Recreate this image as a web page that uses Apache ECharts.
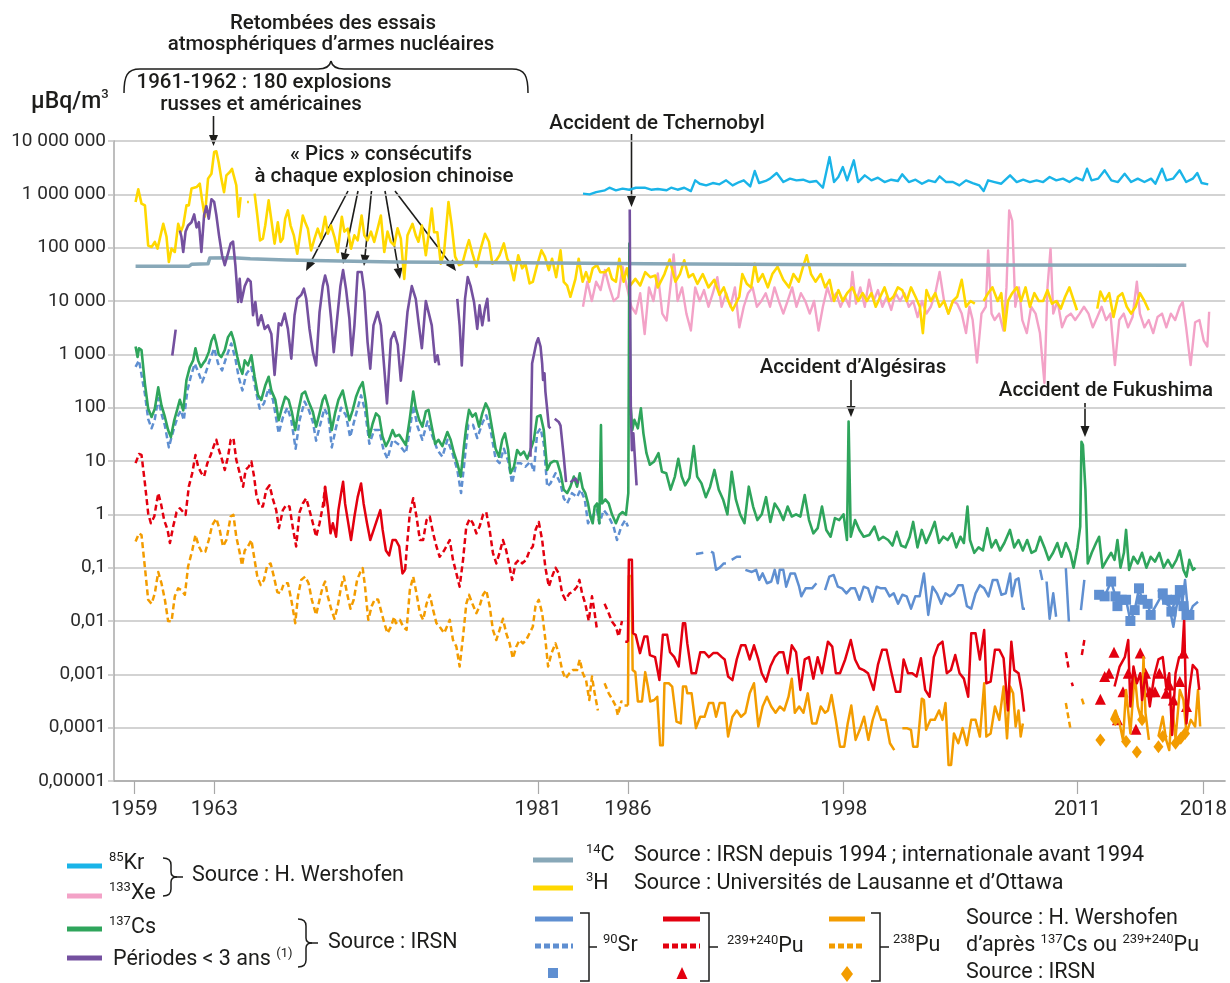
<!DOCTYPE html>
<html><head><meta charset="utf-8">
<script src="https://cdn.jsdelivr.net/npm/echarts@6/dist/echarts.min.js"></script>
<style>html,body{margin:0;padding:0;background:#fff}#c{width:1230px;height:983px}</style>
</head><body><div id="c"></div><script>
// ---------------- DATA (year, µBq/m3) ----------------
const xTickYears = [1959, 1963, 1981, 1986, 1998, 2011, 2018];
const yTickValues = [1e-5, 1e-4, 1e-3, 1e-2, 1e-1, 1, 10, 100, 1e3, 1e4, 1e5, 1e6, 1e7];

const tritium = [[1958.62,7.2e5],[1958.77,1.24e6],[1958.95,6.7e5],[1959.14,6.2e5],[1959.32,1.1e5],[1959.51,1.03e5],[1959.69,1.28e5],[1959.84,9.6e4],[1960.16,2.8e5],[1960.34,1.6e5],[1960.47,5.4e4],[1960.62,9.6e4],[1960.8,8.3e4],[1960.99,2.8e5],[1961.14,2.0e5],[1961.27,2.6e5],[1961.45,6.2e5],[1961.58,6.2e5],[1961.73,1.28e6],[1962.01,1.37e6],[1962.19,1.58e6],[1962.32,7.7e5],[1962.47,3.8e5],[1962.65,1.97e6],[1962.84,2.44e6],[1962.99,6.2e6],[1963.11,6.4e6],[1963.24,4.0e6],[1963.39,1.97e6],[1963.54,1.1e6],[1963.67,2.27e6],[1963.85,2.6e6],[1963.98,3.0e6],[1964.09,2.8e6],[1964.22,1.48e6],[1964.35,3.8e5],[1964.46,8.9e5],[1964.52,null],[1964.82,7.2e5],[1964.92,7.2e5],[1965.0,null],[1965.24,1.03e6],[1965.39,4.0e5],[1965.54,1.37e5],[1965.7,1.48e5],[1965.83,2.6e5],[1966.02,7.7e5],[1966.16,3.5e5],[1966.35,1.19e5],[1966.53,3.0e5],[1966.68,1.28e5],[1966.81,1.48e5],[1966.94,3.5e5],[1967.09,5.0e5],[1967.24,2.6e5],[1967.42,1.7e5],[1967.61,7.7e4],[1967.76,1.7e5],[1967.92,4.0e5],[1968.05,3.0e5],[1968.2,2.27e5],[1968.38,8.9e4],[1968.57,1.48e5],[1968.75,2.27e5],[1968.94,1.48e5],[1969.16,3.8e5],[1969.31,1.83e5],[1969.49,2.6e5],[1969.68,1.58e5],[1969.86,8.3e4],[1970.09,3.8e5],[1970.23,2.0e5],[1970.42,2.27e5],[1970.6,9.6e4],[1970.79,1.7e5],[1970.97,1.37e5],[1971.19,4.0e5],[1971.34,1.7e5],[1971.52,1.37e5],[1971.71,2.0e5],[1971.89,1.28e5],[1972.08,2.27e5],[1972.26,4.0e5],[1972.45,8.3e4],[1972.63,2.0e5],[1972.81,1.28e5],[1973.0,1.1e5],[1973.19,2.3e5],[1973.37,1.48e5],[1973.56,2.6e4],[1973.74,1.7e5],[1974.02,2.8e5],[1974.2,1.7e5],[1974.35,1.29e5],[1974.54,2.6e5],[1974.76,7.2e4],[1974.91,1.7e5],[1975.09,5.4e5],[1975.22,1.95e5],[1975.4,1.95e5],[1975.59,5.0e4],[1975.77,7.8e4],[1976.02,7.2e5],[1976.2,2.6e5],[1976.39,6.8e4],[1976.61,4.7e4],[1976.79,5.0e4],[1977.01,9.5e4],[1977.16,1.38e5],[1977.35,7.8e4],[1977.57,4.4e4],[1977.81,9.5e4],[1978.05,1.82e5],[1978.27,1.29e5],[1978.46,5.0e4],[1978.68,5.8e4],[1978.86,7.2e4],[1979.1,1.2e5],[1979.29,6.2e4],[1979.47,4.7e4],[1979.66,2.45e4],[1979.9,7.2e4],[1980.12,4.1e4],[1980.3,5.0e4],[1980.53,2.14e4],[1980.71,2.29e4],[1980.95,4.7e4],[1981.19,8.9e4],[1981.38,6.8e4],[1981.6,3.8e4],[1981.78,6.2e4],[1982.01,2.8e4],[1982.25,8.9e4],[1982.43,2.29e4],[1982.62,1.95e4],[1982.8,1.2e4],[1983.08,2.6e4],[1983.26,6.2e4],[1983.48,2.29e4],[1983.67,3.47e4],[1983.85,2.29e4],[1984.04,4.1e4],[1984.28,4.7e4],[1984.46,3.47e4],[1984.74,3.47e4],[1984.93,4.1e4],[1985.11,2.6e4],[1985.33,2.29e4],[1985.52,6.2e4],[1985.76,2.29e4],[1985.94,4.1e4],[1986.13,1.95e4],[1986.41,2.6e4],[1986.68,1.95e4],[1986.96,3.47e4],[1987.24,2.8e4],[1987.52,3.0e4],[1987.66,1.8e4],[1988.03,3.2e4],[1988.32,6.0e4],[1988.64,2.3e4],[1988.89,3.2e4],[1989.13,5.8e4],[1989.38,2.8e4],[1989.62,3.2e4],[1989.86,2.1e4],[1990.16,3.2e4],[1990.48,1.8e4],[1990.8,2.5e4],[1991.09,1.3e4],[1991.33,1.8e4],[1991.58,1.0e4],[1991.82,6.7e3],[1992.19,1.2e4],[1992.36,3.2e4],[1992.61,2.1e4],[1992.85,1.8e4],[1993.05,5.0e4],[1993.24,2.3e4],[1993.49,3.2e4],[1993.78,1.8e4],[1994.03,3.2e4],[1994.32,4.4e4],[1994.64,2.5e4],[1994.96,1.8e4],[1995.2,3.2e4],[1995.5,2.3e4],[1995.74,4.4e4],[1995.94,7.2e4],[1996.18,3.2e4],[1996.43,2.3e4],[1996.72,3.2e4],[1996.97,1.8e4],[1997.21,2.5e4],[1997.46,1.0e4],[1997.7,1.6e4],[1997.95,1.0e4],[1998.19,1.4e4],[1998.48,1.8e4],[1998.8,1.0e4],[1999.05,1.4e4],[1999.29,1.0e4],[1999.54,1.4e4],[1999.78,7.8e3],[2000.03,1.2e4],[2000.27,1.8e4],[2000.52,1.0e4],[2000.76,1.2e4],[2001.01,1.8e4],[2001.25,1.6e4],[2001.5,1.0e4],[2001.74,1.8e4],[2001.99,1.2e4],[2002.23,7.8e3],[2002.4,2.5e3],[2002.6,1.6e4],[2002.84,1.0e4],[2003.09,1.4e4],[2003.33,7.8e3],[2003.58,1.0e4],[2003.82,5.8e3],[2004.07,1.0e4],[2004.31,1.2e4],[2004.56,2.5e4],[2004.8,7.8e3],[2005.05,1.0e4],[2005.29,8.9e3],[2005.5,null],[2005.78,1.0e4],[2006.03,1.4e4],[2006.27,1.8e4],[2006.56,1.0e4],[2006.76,1.4e4],[2006.95,2.8e3],[2007.13,1.0e4],[2007.37,1.4e4],[2007.62,1.8e4],[2007.86,1.0e4],[2008.11,1.8e4],[2008.35,7.8e3],[2008.6,1.4e4],[2008.84,1.0e4],[2009.09,1.0e4],[2009.33,1.6e4],[2009.58,8.9e3],[2009.82,1.0e4],[2010.07,7.2e3],[2010.31,1.2e4],[2010.55,1.8e4],[2010.8,1.0e4],[2010.97,6.7e3],[2011.5,null],[2012.1,7.2e3],[2012.27,1.5e4],[2012.51,1.0e4],[2012.76,1.4e4],[2013.0,5.0e3],[2013.25,1.2e4],[2013.49,1.4e4],[2013.74,7.8e3],[2013.98,5.8e3],[2014.23,7.8e3],[2014.47,1.4e4],[2014.72,1.0e4],[2014.96,6.7e3]];

const carbon14 = [[1958.62,4.5e4],[1961.6,4.5e4],[1961.75,4.9e4],[1962.65,5.0e4],[1962.75,6.4e4],[1964.0,6.5e4],[1965,6.2e4],[1967,5.9e4],[1970,5.6e4],[1973,5.4e4],[1980,5.2e4],[1987,5.0e4],[1995,4.85e4],[2005,4.75e4],[2017.05,4.7e4]];

const krypton85 = [[1983.5,1.03e6],[1983.87,1.0e6],[1984.23,1.1e6],[1984.72,1.19e6],[1984.97,1.33e6],[1985.33,1.19e6],[1985.7,1.28e6],[1986.07,1.22e6],[1986.44,1.33e6],[1986.93,1.33e6],[1987.29,1.22e6],[1987.66,1.26e6],[1988.15,1.19e6],[1988.4,1.33e6],[1988.76,1.22e6],[1989.13,1.33e6],[1989.5,1.15e6],[1989.74,1.83e6],[1989.99,1.58e6],[1990.35,1.47e6],[1990.72,1.63e6],[1991.09,1.54e6],[1991.46,1.83e6],[1991.82,1.47e6],[1992.19,1.7e6],[1992.44,1.83e6],[1992.8,1.41e6],[1993.05,2.74e6],[1993.29,1.63e6],[1993.66,1.78e6],[1993.9,1.97e6],[1994.27,2.51e6],[1994.64,1.7e6],[1995.01,1.97e6],[1995.37,1.83e6],[1995.74,1.88e6],[1996.11,1.7e6],[1996.48,1.78e6],[1996.84,1.33e6],[1997.21,5.0e6],[1997.46,1.7e6],[1997.7,2.11e6],[1997.95,3.25e6],[1998.19,1.83e6],[1998.56,4.34e6],[1998.8,1.7e6],[1999.17,2.27e6],[1999.54,1.83e6],[1999.9,2.05e6],[2000.27,1.7e6],[2000.64,1.88e6],[2001.01,1.78e6],[2001.25,2.37e6],[2001.62,1.7e6],[2001.99,1.88e6],[2002.35,1.58e6],[2002.72,1.83e6],[2003.09,1.7e6],[2003.33,2.17e6],[2003.7,1.7e6],[2004.07,1.7e6],[2004.43,1.47e6],[2004.8,1.83e6],[2005.17,1.63e6],[2005.54,1.47e6],[2005.78,1.15e6],[2006.03,1.83e6],[2006.39,1.7e6],[2006.76,1.58e6],[2007.25,2.27e6],[2007.62,1.7e6],[2007.98,1.88e6],[2008.35,1.7e6],[2008.72,1.83e6],[2009.09,1.7e6],[2009.45,2.11e6],[2009.82,1.83e6],[2010.19,1.97e6],[2010.55,1.7e6],[2010.92,2.05e6],[2011.29,1.83e6],[2011.53,3.03e6],[2011.78,1.83e6],[2012.15,1.97e6],[2012.51,2.82e6],[2012.88,1.83e6],[2013.25,1.7e6],[2013.62,2.44e6],[2013.98,1.7e6],[2014.35,1.97e6],[2014.72,1.7e6],[2015.09,1.97e6],[2015.33,1.58e6],[2015.7,3.03e6],[2015.94,1.83e6],[2016.31,1.97e6],[2016.68,2.82e6],[2017.04,1.7e6],[2017.41,1.97e6],[2017.66,2.51e6],[2017.9,1.63e6],[2018.27,1.54e6]];

const xenon133 = [[1983.5,7.8e3],[1983.74,2.3e4],[1983.99,1.0e4],[1984.23,2.3e4],[1984.48,1.6e4],[1984.72,3.8e4],[1984.97,1.8e4],[1985.21,1.0e4],[1985.46,1.2e4],[1985.7,4.4e4],[1985.95,1.8e4],[1986.19,7.8e3],[1986.44,5.8e3],[1986.68,1.4e4],[1986.93,2.4e3],[1987.17,1.8e4],[1987.42,1.0e4],[1987.66,3.3e4],[1987.91,5.8e3],[1988.15,4.3e3],[1988.4,2.4e4],[1988.54,7.5e4],[1988.76,1.0e4],[1989.01,1.8e4],[1989.25,5.8e3],[1989.5,2.8e3],[1989.74,1.8e4],[1989.99,1.0e4],[1990.23,1.6e4],[1990.48,7.8e3],[1990.72,1.4e4],[1990.97,2.8e4],[1991.21,7.8e3],[1991.46,1.4e4],[1991.7,7.8e3],[1991.95,1.8e4],[1992.19,3.2e3],[1992.44,7.8e3],[1992.68,1.4e4],[1992.93,1.8e4],[1993.17,7.8e3],[1993.42,1.0e4],[1993.66,1.4e4],[1993.9,7.8e3],[1994.15,1.8e4],[1994.39,1.0e4],[1994.64,5.8e3],[1994.88,1.0e4],[1995.13,1.8e4],[1995.37,7.8e3],[1995.62,1.4e4],[1995.86,1.0e4],[1996.11,5.8e3],[1996.35,1.0e4],[1996.6,2.8e3],[1996.84,7.8e3],[1997.09,1.8e4],[1997.33,1.0e4],[1997.58,1.4e4],[1997.82,7.8e3],[1998.07,1.2e4],[1998.31,7.8e3],[1998.48,3.5e4],[1998.68,8.9e3],[1998.92,1.8e4],[1999.17,7.8e3],[1999.41,2.5e4],[1999.66,1.0e4],[1999.9,1.6e4],[2000.15,7.8e3],[2000.39,1.2e4],[2000.64,6.8e3],[2000.88,1.4e4],[2001.13,1.0e4],[2001.37,1.4e4],[2001.62,7.8e3],[2001.86,1.0e4],[2002.11,5.0e3],[2002.35,1.0e4],[2002.6,5.8e3],[2002.84,7.8e3],[2003.09,1.4e4],[2003.33,3.5e4],[2003.58,1.0e4],[2003.82,5.8e3],[2004.07,1.0e4],[2004.31,8.9e3],[2004.56,5.8e3],[2004.8,2.5e3],[2004.99,7.8e3],[2005.17,4.4e3],[2005.41,700],[2005.66,5.8e3],[2005.9,7.8e3],[2006.03,8.9e4],[2006.22,5.8e3],[2006.39,4.4e3],[2006.64,5.8e3],[2006.88,2.8e3],[2007.05,1.8e4],[2007.2,5.0e5],[2007.37,3.2e5],[2007.54,7.8e3],[2007.74,1.8e4],[2007.93,4.4e3],[2008.18,2.5e3],[2008.42,7.8e3],[2008.67,5.8e3],[2008.91,2.5e3],[2009.16,290],[2009.33,1.8e4],[2009.5,9.6e4],[2009.65,5.8e3],[2009.89,1.0e4],[2010.14,3.2e3],[2010.38,5.0e3],[2010.63,5.8e3],[2010.87,4.4e3],[2011.12,5.8e3],[2011.36,7.8e3],[2011.61,5.8e3],[2011.85,3.2e3],[2012.1,5.0e3],[2012.34,7.8e3],[2012.59,4.4e3],[2012.83,5.8e3],[2013.08,630],[2013.32,4.4e3],[2013.57,5.8e3],[2013.81,3.2e3],[2014.06,5.0e3],[2014.3,2.3e4],[2014.47,5.8e3],[2014.72,3.2e3],[2014.96,4.4e3],[2015.21,2.5e3],[2015.45,5.0e3],[2015.7,5.8e3],[2015.94,3.2e3],[2016.19,5.8e3],[2016.43,4.4e3],[2016.68,7.8e3],[2016.85,9.6e3],[2017.04,3.2e3],[2017.29,630],[2017.54,4.0e3],[2017.78,4.4e3],[2018.02,1.8e3],[2018.22,1.4e3],[2018.32,6.3e3]];

const cesium137 = [[1958.62,1.4e3],[1958.73,890],[1958.81,1.3e3],[1958.95,1.2e3],[1959.14,280],[1959.32,96],[1959.51,67],[1959.69,96],[1959.88,240],[1960.06,110],[1960.25,67],[1960.43,38],[1960.58,28],[1960.77,58],[1960.95,96],[1961.08,140],[1961.27,89],[1961.45,330],[1961.64,580],[1961.82,770],[1961.95,1.3e3],[1962.1,770],[1962.25,580],[1962.37,670],[1962.5,770],[1962.69,1.1e3],[1962.84,1.8e3],[1962.99,2.3e3],[1963.11,1.6e3],[1963.24,1.0e3],[1963.39,890],[1963.58,1.2e3],[1963.76,2.1e3],[1963.94,2.6e3],[1964.09,1.8e3],[1964.28,890],[1964.41,580],[1964.56,430],[1964.69,770],[1964.87,620],[1965.06,960],[1965.24,380],[1965.43,170],[1965.61,140],[1965.83,260],[1966.02,380],[1966.17,210],[1966.39,140],[1966.58,58],[1966.76,100],[1966.94,160],[1967.13,140],[1967.31,83],[1967.5,38],[1967.68,89],[1967.87,180],[1968.05,200],[1968.24,130],[1968.48,83],[1968.66,44],[1968.85,78],[1969.03,140],[1969.16,170],[1969.35,100],[1969.53,38],[1969.71,78],[1969.9,140],[1970.14,210],[1970.32,110],[1970.51,58],[1970.69,89],[1970.88,160],[1971.06,230],[1971.25,300],[1971.43,120],[1971.62,28],[1971.8,50],[1971.99,78],[1972.17,68],[1972.35,29],[1972.54,19],[1972.72,25],[1972.91,38],[1973.06,29],[1973.28,31],[1973.46,25],[1973.65,20],[1973.87,63],[1974.06,200],[1974.2,100],[1974.39,59],[1974.57,44],[1974.76,85],[1974.91,91],[1975.09,44],[1975.28,21],[1975.46,25],[1975.68,19],[1975.96,35],[1976.14,25],[1976.33,14],[1976.51,9.1],[1976.7,5.1],[1976.88,19],[1977.01,44],[1977.16,91],[1977.35,68],[1977.53,78],[1977.72,44],[1977.9,78],[1978.09,120],[1978.27,91],[1978.46,38],[1978.64,17],[1978.83,12],[1979.01,25],[1979.16,33],[1979.34,16],[1979.47,5.9],[1979.66,7.8],[1979.84,16],[1980.03,13],[1980.21,15],[1980.4,11],[1980.58,16],[1980.77,25],[1980.95,68],[1981.14,72],[1981.32,38],[1981.51,6.8],[1981.69,9.1],[1981.88,10],[1982.06,9.8],[1982.25,5.9],[1982.43,2.9],[1982.62,2.5],[1982.8,3.3],[1982.99,5.1],[1983.17,3.3],[1983.32,5.9],[1983.48,3.1],[1983.63,2.5],[1983.78,1.6],[1983.91,0.91],[1984.04,0.68],[1984.15,1.4],[1984.28,1.6],[1984.41,0.68],[1984.5,47],[1984.56,1.6],[1984.74,1.9],[1984.93,1.6],[1985.11,1.0],[1985.33,0.68],[1985.52,0.98],[1985.7,1.1],[1985.89,0.98],[1986.02,2.5],[1986.08,1.2e5],[1986.13,140],[1986.24,38],[1986.36,59],[1986.55,41],[1986.72,97],[1986.86,33],[1987.03,14],[1987.22,8.5],[1987.46,9.8],[1987.7,14],[1987.89,6.3],[1988.13,5.9],[1988.37,2.9],[1988.61,5.1],[1988.8,11],[1988.99,5.1],[1989.18,3.5],[1989.42,4.8],[1989.66,19],[1989.85,5.1],[1990.09,3.8],[1990.33,2.1],[1990.57,3.3],[1990.81,6.8],[1991.05,2.9],[1991.29,1.9],[1991.53,1.0],[1991.77,6.3],[1992.0,1.9],[1992.24,1.0],[1992.48,0.68],[1992.72,3.3],[1992.96,1.4],[1993.2,0.78],[1993.44,1.0],[1993.68,2.1],[1993.92,0.72],[1994.16,1.6],[1994.4,1.2],[1994.64,0.78],[1994.88,1.4],[1995.11,0.91],[1995.35,1.0],[1995.59,0.91],[1995.83,2.3],[1996.07,0.78],[1996.31,0.44],[1996.55,0.55],[1996.79,1.4],[1997.03,0.51],[1997.27,0.38],[1997.51,0.85],[1997.75,0.78],[1997.99,1.0],[1998.18,0.33],[1998.27,55],[1998.39,0.38],[1998.63,0.78],[1998.87,0.51],[1999.11,0.38],[1999.42,0.41],[1999.71,0.59],[1999.95,0.33],[2000.19,0.38],[2000.47,0.33],[2000.71,0.26],[2000.95,0.47],[2001.19,0.26],[2001.43,0.24],[2001.67,0.38],[2001.86,0.72],[2002.1,0.24],[2002.34,0.51],[2002.58,0.29],[2002.82,0.44],[2003.06,0.72],[2003.3,0.29],[2003.54,0.38],[2003.78,0.33],[2004.02,0.44],[2004.26,0.24],[2004.49,0.38],[2004.68,0.29],[2004.88,1.4],[2005.02,0.33],[2005.26,0.19],[2005.5,0.24],[2005.74,0.21],[2005.98,0.55],[2006.22,0.24],[2006.46,0.33],[2006.69,0.21],[2006.93,0.29],[2007.24,0.51],[2007.48,0.24],[2007.72,0.33],[2007.96,0.21],[2008.2,0.33],[2008.44,0.19],[2008.68,0.21],[2008.92,0.38],[2009.16,0.24],[2009.4,0.14],[2009.64,0.19],[2009.88,0.29],[2010.11,0.16],[2010.35,0.29],[2010.59,0.19],[2010.78,0.10],[2011.0,0.24],[2011.15,0.59],[2011.22,23],[2011.3,20],[2011.44,2.9],[2011.57,0.12],[2011.79,0.19],[2012.03,0.29],[2012.2,0.38],[2012.39,0.10],[2012.63,0.14],[2012.87,0.19],[2013.06,0.14],[2013.22,0.33],[2013.39,0.10],[2013.58,0.19],[2013.7,0.51],[2013.87,0.091],[2014.11,0.16],[2014.35,0.12],[2014.59,0.19],[2014.83,0.10],[2015.07,0.16],[2015.31,0.13],[2015.55,0.19],[2015.79,0.10],[2016.03,0.14],[2016.26,0.10],[2016.5,0.14],[2016.69,0.21],[2016.89,0.091],[2017.06,0.068],[2017.22,0.14],[2017.42,0.091],[2017.56,0.10]];

const shortLived = [[1960.66,950],[1960.85,2900],[1960.95,null],[1961.08,2.1e5],[1961.17,1.6e5],[1961.27,8.3e4],[1961.4,2.0e5],[1961.54,2.6e5],[1961.73,3.0e5],[1961.88,4.2e5],[1962.01,2.4e5],[1962.14,3.0e5],[1962.28,8.3e4],[1962.43,4.1e5],[1962.56,6.0e5],[1962.69,3.5e5],[1962.84,8.1e5],[1962.99,7.2e5],[1963.11,4.1e5],[1963.26,1.7e5],[1963.43,7.2e4],[1963.58,4.7e4],[1963.76,7.8e4],[1963.91,1.2e5],[1964.04,1.3e5],[1964.17,4.7e4],[1964.32,9.6e3],[1964.41,2.6e4],[1964.5,9.6e3],[1964.69,1.9e4],[1964.87,2.6e4],[1965.02,2.3e4],[1965.15,5.4e3],[1965.28,9.6e3],[1965.43,3.5e3],[1965.61,5.4e3],[1965.8,3.0e3],[1965.98,3.5e3],[1966.17,2.4e3],[1966.35,410],[1966.58,3.8e3],[1966.72,3.5e3],[1966.91,5.8e3],[1967.09,3.0e3],[1967.28,830],[1967.46,5.4e3],[1967.61,1.1e4],[1967.83,1.3e4],[1967.98,1.7e4],[1968.11,1.1e4],[1968.29,3.0e3],[1968.48,1.1e3],[1968.66,620],[1968.85,6.2e3],[1969.03,1.9e4],[1969.16,3.0e4],[1969.31,1.9e4],[1969.49,4.7e3],[1969.64,1.1e3],[1969.83,4.7e3],[1970.01,1.9e4],[1970.16,3.8e4],[1970.32,1.7e4],[1970.51,4.7e3],[1970.64,960],[1970.79,3.5e3],[1970.97,3.5e4],[1971.19,3.5e4],[1971.34,1.5e4],[1971.52,1.7e3],[1971.67,540],[1971.85,3.5e3],[1972.08,6.2e3],[1972.26,3.5e3],[1972.45,540],[1972.6,120],[1972.82,1.9e3],[1973.0,2.6e3],[1973.2,1.5e3],[1973.37,320],[1973.56,1.3e3],[1973.74,6.2e3],[1973.98,1.9e4],[1974.2,1.1e4],[1974.35,4.1e3],[1974.54,1.3e3],[1974.76,1.0e4],[1974.91,6.2e3],[1975.09,3.5e3],[1975.28,720],[1975.41,960],[1975.5,620],[1976.0,null],[1976.51,1.1e4],[1976.64,3.5e3],[1976.76,620],[1976.94,1.1e4],[1977.09,2.8e4],[1977.25,1.9e4],[1977.44,9.6e3],[1977.62,3.0e3],[1977.75,8.3e3],[1977.9,3.5e3],[1978.05,7.2e3],[1978.18,1.1e4],[1978.27,4.1e3],[1979.0,null],[1980.58,12],[1980.67,670],[1980.77,670],[1980.9,1.6e3],[1981.01,2.0e3],[1981.14,1.4e3],[1981.23,670],[1981.28,330],[1981.36,440],[1981.41,200],[1981.5,100],[1981.6,44],[1981.69,41],[1981.8,null],[1981.93,62],[1982.15,54],[1982.25,46],[1982.43,12],[1982.56,4],[1982.65,null],[1982.8,4],[1983.08,4.7],[1983.23,3.8],[1984.0,null],[1986.1,5.2e5],[1986.13,3e3],[1986.16,100],[1986.22,16],[1986.3,33],[1986.48,3.5]];

const sr90Est = [[1958.62,580],[1958.81,770],[1959.14,180],[1959.32,61],[1959.51,41],[1959.69,61],[1959.88,150],[1960.06,77],[1960.25,46],[1960.47,18],[1960.62,28],[1960.8,46],[1960.99,72],[1961.14,89],[1961.3,58],[1961.5,210],[1961.69,380],[1961.91,670],[1962.1,470],[1962.32,300],[1962.5,430],[1962.74,770],[1962.99,1.3e3],[1963.21,670],[1963.43,500],[1963.67,890],[1963.94,1.6e3],[1964.17,830],[1964.35,380],[1964.56,210],[1964.78,430],[1965.06,580],[1965.28,230],[1965.52,96],[1965.76,120],[1966.02,230],[1966.26,140],[1966.58,33],[1966.82,67],[1967.06,100],[1967.28,58],[1967.52,17],[1967.74,58],[1968.02,130],[1968.26,89],[1968.48,54],[1968.66,24],[1968.85,43],[1969.12,96],[1969.35,67],[1969.53,18],[1969.77,43],[1970.05,100],[1970.32,72],[1970.55,28],[1970.79,58],[1971.16,170],[1971.38,89],[1971.62,21],[1971.89,38],[1972.17,38],[1972.41,16],[1972.63,11],[1972.91,25],[1973.28,20],[1973.65,14],[1973.87,38],[1974.06,110],[1974.3,44],[1974.57,25],[1974.85,55],[1975.13,29],[1975.41,16],[1975.68,12],[1975.96,25],[1976.24,14],[1976.51,6.8],[1976.72,2.5],[1976.9,9.1],[1977.12,48],[1977.38,48],[1977.62,27],[1977.9,51],[1978.12,72],[1978.36,38],[1978.64,11],[1978.86,9.1],[1979.1,17],[1979.34,10],[1979.56,3.8],[1979.79,9.1],[1980.03,9.1],[1980.3,7.8],[1980.58,9.8],[1980.77,6.3],[1980.95,33],[1981.14,41],[1981.32,21],[1981.51,3.3],[1981.69,3.8],[1981.97,5.9],[1982.25,3.8],[1982.43,2.0],[1982.62,1.6],[1982.89,2.5],[1983.17,2.1],[1983.36,2.9],[1983.6,1.9],[1983.78,0.68],[1984.0,0.91],[1984.28,1.2],[1984.41,0.68],[1984.65,1.2],[1984.93,0.91],[1985.2,0.59],[1985.39,0.33],[1985.63,0.59],[1985.85,0.78],[1986.0,0.59]];

const sr90 = [[1989.78,0.18],[1990.19,0.19],[1990.4,null],[1990.62,0.2],[1990.74,0.19],[1990.9,0.091],[1991.1,0.10],[1991.33,0.12],[1991.45,0.12],[1991.6,null],[1991.77,0.14],[1991.86,0.13],[1992.05,0.16],[1992.29,0.16],[1992.4,null],[1992.53,0.091],[1992.89,0.083],[1993.13,0.091],[1993.3,0.059],[1993.49,0.078],[1993.73,0.051],[1993.97,0.055],[1994.16,0.091],[1994.33,0.051],[1994.44,0.091],[1994.64,0.091],[1994.8,0.044],[1995.04,0.078],[1995.28,0.078],[1995.52,0.044],[1995.64,0.029],[1995.88,0.041],[1996.24,0.041],[1996.48,0.051],[1996.7,null],[1996.96,0.038],[1997.2,0.068],[1997.44,0.073],[1997.67,0.044],[1997.91,0.041],[1998.15,0.033],[1998.39,0.041],[1998.63,0.041],[1998.87,0.025],[1999.11,0.044],[1999.35,0.041],[1999.59,0.023],[1999.83,0.044],[2000.07,0.041],[2000.31,0.041],[2000.55,0.029],[2000.78,0.033],[2001.02,0.021],[2001.26,0.031],[2001.5,0.029],[2001.74,0.017],[2001.98,0.029],[2002.22,0.029],[2002.46,0.078],[2002.7,0.013],[2002.94,0.044],[2003.18,0.033],[2003.42,0.021],[2003.66,0.033],[2003.9,0.029],[2004.13,0.033],[2004.37,0.047],[2004.61,0.047],[2004.85,0.019],[2005.09,0.017],[2005.33,0.033],[2005.57,0.047],[2005.81,0.041],[2006.05,0.029],[2006.29,0.059],[2006.53,0.059],[2006.77,0.031],[2007.01,0.033],[2007.25,0.078],[2007.36,0.029],[2007.56,0.059],[2007.72,0.063],[2007.96,0.017],[2008.08,0.017],[2008.5,null],[2008.92,0.091],[2009.04,0.059],[2009.15,null],[2009.28,0.055],[2009.45,0.011],[2009.65,0.033],[2009.81,0.012],[2010.0,null],[2010.35,0.098],[2010.52,0.0098],[2010.8,null],[2011.19,0.016],[2011.38,0.059],[2013.0,null],[2015.5,0.038],[2015.79,0.023],[2016.1,0.019],[2016.33,0.0078],[2016.57,0.025],[2016.81,0.019],[2016.98,0.059],[2017.17,0.012],[2017.41,0.019],[2017.7,0.023]];

const sr90Points = [[2012.2,0.031],[2012.51,0.029],[2012.87,0.055],[2013.11,0.029],[2013.22,0.019],[2013.46,0.025],[2013.7,0.025],[2013.94,0.010],[2014.18,0.016],[2014.42,0.041],[2014.59,0.025],[2014.9,0.021],[2015.07,0.013],[2015.74,0.033],[2015.98,0.025],[2016.22,0.015],[2016.45,0.025],[2016.69,0.038],[2016.89,0.019],[2017.06,0.013],[2017.22,0.013]];

const pu239Est = [[1958.62,9.1],[1958.81,13.5],[1958.95,13],[1959.14,3.8],[1959.32,1.05],[1959.47,0.68],[1959.66,0.91],[1959.88,2.5],[1960.03,1.6],[1960.21,0.78],[1960.4,0.51],[1960.53,0.29],[1960.71,0.59],[1960.9,1.1],[1961.08,1.3],[1961.27,1.1],[1961.4,0.98],[1961.58,3.3],[1961.77,5.9],[1961.95,13],[1962.1,7.8],[1962.28,5.9],[1962.43,5.1],[1962.61,9.1],[1962.8,13],[1962.99,20],[1963.11,25],[1963.26,16],[1963.43,10.5],[1963.58,6.8],[1963.76,12],[1963.91,25],[1964.06,27],[1964.22,10.5],[1964.41,5.9],[1964.6,3.3],[1964.74,6.8],[1964.91,7.8],[1965.06,9.8],[1965.21,5.1],[1965.34,2.3],[1965.52,1.4],[1965.7,1.4],[1965.89,2.9],[1966.07,3.5],[1966.26,1.9],[1966.44,1.2],[1966.59,0.55],[1966.81,1.2],[1967.0,1.5],[1967.18,1.4],[1967.37,0.55],[1967.55,0.25],[1967.74,1.1],[1967.92,1.6],[1968.11,2.0],[1968.29,1.2],[1968.48,0.68],[1968.66,0.38],[1968.85,0.68],[1969.03,1.4],[1969.16,3.3],[1969.3,null],[1973.61,0.091],[1973.69,0.21],[1973.87,1.05],[1974.06,2.0],[1974.24,0.91],[1974.43,0.33],[1974.61,0.33],[1974.8,0.78],[1974.98,0.91],[1975.17,0.44],[1975.35,0.25],[1975.53,0.16],[1975.78,0.21],[1976.09,0.33],[1976.27,0.14],[1976.46,0.078],[1976.64,0.044],[1976.83,0.14],[1977.01,0.59],[1977.2,0.83],[1977.38,0.68],[1977.57,0.44],[1977.75,0.59],[1977.94,0.98],[1978.12,1.1],[1978.31,0.51],[1978.49,0.19],[1978.68,0.12],[1978.86,0.19],[1979.05,0.33],[1979.23,0.21],[1979.38,0.12],[1979.56,0.059],[1979.75,0.12],[1979.93,0.14],[1980.12,0.12],[1980.34,0.14],[1980.53,0.21],[1980.71,0.25],[1980.86,0.51],[1981.04,0.72],[1981.23,0.33],[1981.41,0.10],[1981.6,0.044],[1981.78,0.068],[1981.97,0.10],[1982.15,0.078],[1982.34,0.033],[1982.52,0.025],[1982.75,0.033],[1982.93,0.035],[1983.17,0.044],[1983.3,0.059],[1983.45,0.033],[1983.63,0.021],[1983.82,0.010],[1984.0,0.029],[1984.15,0.014],[1984.28,0.0068],[1984.5,null],[1984.7,0.021],[1984.93,0.014],[1985.11,0.0098],[1985.33,0.0078],[1985.48,0.0051],[1985.67,0.010],[1985.75,null],[1985.85,0.0041],[1986.0,0.0041],[1990.0,null],[2010.35,0.0026],[2010.52,0.0012],[2010.6,null],[2010.68,0.0007],[2010.74,0.0006],[2010.9,null],[2011.24,0.0023],[2011.38,0.0044]];

const pu239 = [[1969.1,1.4],[1969.16,3.3],[1969.31,1.4],[1969.46,0.44],[1969.59,0.68],[1969.77,0.38],[1969.9,1.2],[1970.05,2.5],[1970.16,4.1],[1970.27,1.6],[1970.42,0.78],[1970.6,0.33],[1970.79,0.91],[1970.97,2.1],[1971.16,3.8],[1971.3,1.6],[1971.49,0.68],[1971.67,0.33],[1971.86,0.51],[1972.04,0.78],[1972.23,1.2],[1972.36,0.51],[1972.54,0.21],[1972.72,0.17],[1972.91,0.33],[1973.09,0.33],[1973.28,0.25],[1973.46,0.078],[1973.61,0.091],[1974.0,null],[1986.0,0.0041],[1986.05,0.14],[1986.22,0.14],[1986.28,0.0059],[1986.43,0.0055],[1986.67,0.0025],[1986.91,0.0051],[1987.08,0.0051],[1987.22,0.0023],[1987.51,0.0021],[1987.75,0.00078],[1987.94,0.0055],[1988.18,0.0055],[1988.34,0.0026],[1988.58,0.0021],[1988.82,0.0014],[1989.06,0.0091],[1989.18,0.0091],[1989.3,0.0038],[1989.54,0.00105],[1989.78,0.00105],[1990.02,0.0026],[1990.26,0.0026],[1990.5,0.0021],[1990.74,0.0025],[1990.98,0.0025],[1991.22,0.0021],[1991.38,0.0019],[1991.57,0.00091],[1991.81,0.00078],[1992.05,0.0019],[1992.29,0.0035],[1992.53,0.0035],[1992.77,0.0019],[1993.01,0.0035],[1993.25,0.0019],[1993.44,0.00105],[1993.68,0.00073],[1993.92,0.0014],[1994.16,0.0021],[1994.4,0.0026],[1994.64,0.0026],[1994.88,0.00105],[1995.11,0.0035],[1995.35,0.0026],[1995.59,0.00051],[1995.83,0.0019],[1996.07,0.0021],[1996.31,0.00083],[1996.55,0.0021],[1996.79,0.00105],[1997.12,0.0041],[1997.36,0.0033],[1997.56,0.00105],[1997.79,0.00105],[1998.08,0.0019],[1998.39,0.0044],[1998.63,0.0019],[1998.87,0.0013],[1999.11,0.0012],[1999.35,0.00105],[1999.66,0.00051],[1999.9,0.0015],[2000.14,0.0029],[2000.38,0.0029],[2000.62,0.0012],[2000.9,0.00047],[2001.14,0.00047],[2001.33,0.0019],[2001.57,0.00105],[2001.81,0.00105],[2002.05,0.00091],[2002.29,0.002],[2002.53,0.00051],[2002.77,0.00038],[2003.01,0.0021],[2003.25,0.0035],[2003.49,0.0041],[2003.73,0.00105],[2003.96,0.0012],[2004.2,0.0023],[2004.44,0.00105],[2004.68,0.00083],[2004.92,0.00038],[2005.09,0.0059],[2005.33,0.0059],[2005.57,0.0019],[2005.81,0.0068],[2005.93,0.00068],[2006.17,0.00073],[2006.41,0.0029],[2006.65,0.0029],[2006.89,0.002],[2007.13,0.00021],[2007.32,0.0041],[2007.48,0.0012],[2007.72,0.00105],[2007.89,0.00051],[2008.03,0.0002],[2009.0,null],[2013.06,0.00059],[2013.34,0.0014],[2013.63,0.0021],[2013.82,0.0044],[2013.94,0.00025],[2014.11,0.0014],[2014.3,0.00068],[2014.49,0.00105],[2014.59,0.00033],[2014.78,0.00105],[2015.02,0.00025],[2015.26,0.00091],[2015.5,0.0019],[2015.74,0.0021],[2015.93,0.00059],[2016.1,0.00105],[2016.26,0.000073],[2016.45,0.00105],[2016.65,0.0021],[2016.81,0.0021],[2016.93,0.0105],[2017.06,0.00012],[2017.22,0.00051],[2017.41,0.0015],[2017.65,0.0012],[2017.77,0.00051]];

const pu239Points = [[2012.27,0.00034],[2012.51,0.00091],[2012.75,0.00105],[2013.03,0.0026],[2013.22,0.00014],[2013.53,0.00047],[2013.82,0.00105],[2014.25,0.000093],[2014.49,0.0025],[2014.78,0.00105],[2015.02,0.00047],[2015.31,0.00047],[2015.55,0.00105],[2015.93,0.00044],[2016.1,0.00063],[2016.33,0.00033],[2016.69,0.00073],[2016.89,0.0025],[2017.06,0.00025]];

const pu238Est = [[1958.62,0.31],[1958.81,0.44],[1958.95,0.41],[1959.14,0.10],[1959.32,0.025],[1959.51,0.021],[1959.69,0.033],[1959.88,0.083],[1960.06,0.051],[1960.25,0.025],[1960.43,0.010],[1960.62,0.0098],[1960.8,0.029],[1960.99,0.041],[1961.17,0.038],[1961.36,0.031],[1961.54,0.105],[1961.77,0.21],[1961.95,0.41],[1962.14,0.25],[1962.32,0.19],[1962.5,0.2],[1962.69,0.33],[1962.88,0.63],[1963.11,0.83],[1963.3,0.51],[1963.48,0.25],[1963.67,0.33],[1963.91,0.91],[1964.06,0.98],[1964.22,0.38],[1964.41,0.19],[1964.54,0.11],[1964.69,0.21],[1964.87,0.25],[1965.06,0.33],[1965.21,0.16],[1965.39,0.068],[1965.58,0.047],[1965.76,0.059],[1965.94,0.11],[1966.13,0.12],[1966.31,0.068],[1966.5,0.035],[1966.68,0.033],[1966.87,0.051],[1967.09,0.051],[1967.28,0.025],[1967.5,0.0091],[1967.65,0.029],[1967.83,0.059],[1968.05,0.068],[1968.24,0.051],[1968.42,0.025],[1968.66,0.013],[1968.85,0.025],[1969.03,0.044],[1969.16,0.055],[1969.31,0.029],[1969.49,0.017],[1969.68,0.011],[1969.86,0.019],[1970.05,0.044],[1970.2,0.068],[1970.38,0.033],[1970.57,0.017],[1970.75,0.025],[1970.94,0.059],[1971.12,0.083],[1971.25,0.098],[1971.38,0.044],[1971.56,0.0105],[1971.75,0.019],[1971.93,0.026],[1972.11,0.025],[1972.26,0.016],[1972.45,0.0091],[1972.63,0.0059],[1972.82,0.0078],[1973.0,0.012],[1973.09,0.0091],[1973.32,0.0105],[1973.5,0.0078],[1973.69,0.0068],[1973.87,0.038],[1974.06,0.068],[1974.24,0.033],[1974.43,0.014],[1974.61,0.0105],[1974.8,0.021],[1974.98,0.031],[1975.17,0.016],[1975.35,0.0091],[1975.53,0.0078],[1975.78,0.0059],[1976.09,0.0105],[1976.27,0.0044],[1976.46,0.0033],[1976.64,0.0014],[1976.83,0.0051],[1977.01,0.021],[1977.16,0.031],[1977.35,0.021],[1977.57,0.014],[1977.75,0.019],[1977.94,0.031],[1978.12,0.038],[1978.31,0.019],[1978.49,0.0068],[1978.68,0.0044],[1978.86,0.0068],[1979.05,0.011],[1979.23,0.0059],[1979.42,0.0038],[1979.6,0.002],[1979.79,0.0033],[1979.97,0.0044],[1980.16,0.0038],[1980.34,0.0044],[1980.53,0.0059],[1980.71,0.0078],[1980.86,0.019],[1981.04,0.025],[1981.23,0.014],[1981.41,0.0044],[1981.56,0.0014],[1981.75,0.0025],[1981.97,0.0038],[1982.15,0.0025],[1982.34,0.0012],[1982.52,0.00083],[1982.75,0.00105],[1982.93,0.0012],[1983.17,0.0012],[1983.32,0.0019],[1983.49,0.00105],[1983.67,0.00078],[1983.85,0.00033],[1984.0,0.00091],[1984.15,0.00044],[1984.33,0.00021],[1984.5,null],[1984.7,0.00068],[1984.93,0.00044],[1985.11,0.00035],[1985.33,0.00025],[1985.44,0.00017],[1985.63,0.00031],[1985.7,0.00031],[1985.75,null],[1985.81,0.00026],[1986.0,0.00026],[1990.0,null],[2010.35,0.00029],[2010.6,0.000098],[2010.9,null],[2011.24,0.00035],[2011.38,0.00025]];

const pu238 = [[1986.0,0.00026],[1986.05,0.07],[1986.2,0.07],[1986.26,0.0012],[1986.41,0.0011],[1986.55,0.00031],[1986.78,0.00031],[1986.96,0.0011],[1987.11,0.00059],[1987.24,0.00031],[1987.46,0.00033],[1987.63,0.00038],[1987.79,0.000047],[1987.94,0.000047],[1988.03,0.00068],[1988.27,0.00068],[1988.46,0.00059],[1988.7,0.00013],[1988.94,0.00012],[1989.06,0.00059],[1989.23,0.00059],[1989.3,0.00044],[1989.54,0.00044],[1989.78,0.000098],[1990.02,0.00016],[1990.26,0.00016],[1990.5,0.00029],[1990.74,0.00029],[1990.9,0.00016],[1991.1,0.00029],[1991.38,0.00029],[1991.57,0.000068],[1991.81,0.00016],[1992.05,0.00021],[1992.29,0.00016],[1992.53,0.00019],[1992.77,0.00044],[1993.01,0.00068],[1993.25,0.000105],[1993.49,0.00025],[1993.73,0.00038],[1993.97,0.00025],[1994.21,0.00019],[1994.45,0.00025],[1994.69,0.00021],[1994.93,0.00038],[1995.11,0.00083],[1995.28,0.00019],[1995.52,0.00025],[1995.76,0.00019],[1996.0,0.00044],[1996.24,0.00012],[1996.48,0.00012],[1996.72,0.00025],[1996.96,0.00019],[1997.12,0.00021],[1997.32,0.00041],[1997.56,0.00014],[1997.79,0.000044],[1998.03,0.000044],[1998.22,0.00012],[1998.42,0.00026],[1998.66,0.000059],[1998.89,0.000091],[1999.13,0.00016],[1999.37,0.000059],[1999.61,0.00014],[1999.85,0.00025],[2000.09,0.00014],[2000.33,0.00014],[2000.57,0.000051],[2000.81,0.000038],[2001.0,null],[2001.26,0.000098],[2001.5,0.000098],[2001.74,0.000091],[2001.86,0.000044],[2002.1,0.000044],[2002.34,0.00035],[2002.46,0.00033],[2002.58,0.000091],[2002.82,0.00014],[2003.06,0.00014],[2003.3,0.00021],[2003.49,0.00014],[2003.66,0.00029],[2003.83,0.00002],[2003.97,0.00002],[2004.13,0.000078],[2004.37,0.000051],[2004.61,0.000098],[2004.85,0.000047],[2005.09,0.00014],[2005.33,0.00014],[2005.57,0.000068],[2005.81,0.00068],[2005.93,0.000068],[2006.17,0.000078],[2006.41,0.00025],[2006.65,0.00014],[2006.89,0.00059],[2007.08,0.000063],[2007.25,0.00059],[2007.42,0.00044],[2007.56,0.000105],[2007.72,0.00021],[2007.84,0.000068],[2007.96,0.00012],[2009.0,null],[2012.87,0.00014],[2013.11,0.00021],[2013.34,0.00012],[2013.53,0.000059],[2013.7,0.00051],[2013.94,0.000078],[2014.18,0.00105],[2014.35,0.00025],[2014.55,0.00014],[2014.67,0.0021],[2014.78,0.00019],[2014.97,0.000059],[2015.2,null],[2015.5,0.000068],[2015.74,0.00016],[2015.93,0.000059],[2016.1,0.000038],[2016.26,0.00025],[2016.45,0.000063],[2016.69,0.00051],[2016.89,0.00033],[2017.06,0.000078],[2017.3,0.00014],[2017.54,0.000105],[2017.7,0.00051],[2017.82,0.000105]];

const pu238Points = [[2012.27,0.000059],[2013.1,0.00014],[2013.7,0.000055],[2014.3,0.000035],[2014.59,0.00014],[2015.5,0.000044],[2015.74,0.000068],[2016.45,0.000051],[2016.74,0.000063],[2016.98,0.000078]];

// ---------------- STYLE ----------------
const F = 'Roboto, "DejaVu Sans", sans-serif';
const INK = '#1d1d1b';
const C = {kr:'#1ab4e8', xe:'#f3a2c7', cs:'#2fa55c', short:'#74509f', c14:'#88a8b8', h3:'#ffd800', sr:'#5f8fd1', pu:'#e3000f', pu238:'#f39c00'};

const chart = echarts.init(document.getElementById('c'), null, {renderer:'canvas'});

function line(name, data, color, width, dashed) {
  return {name, type:'line', data, showSymbol:false, symbol:'none', connectNulls:false,
    lineStyle:{color, width, type: dashed ? [6,3.5] : 'solid', cap:'butt', join:'round'},
    itemStyle:{color}, emphasis:{disabled:true}, silent:true};
}
function points(name, data, color, symbol, size) {
  return {name, type:'scatter', data, symbol, symbolSize:size, itemStyle:{color, opacity:1}, silent:true};
}
function fmtY(v) {
  const e = Math.round(Math.log10(v));
  if (e >= 0) return String(Math.pow(10, e)).replace(/\B(?=(\d{3})+(?!\d))/g, ' ');
  return '0,' + '0'.repeat(-e - 1) + '1';
}
const xTickPos = xTickYears.map(y => y === 1959 ? 1958.55 : y);

// ---------- annotation helpers ----------
function txt(x, y, text, size, weight, align, rich) {
  const st = {text, fill:INK, fontSize:size, fontFamily:F, fontWeight:weight,
    textAlign:align, align:align, textVerticalAlign:'middle', verticalAlign:'middle'};
  if (rich) st.rich = rich;
  return {type:'text', x, y, silent:true, style:st};
}
function ln(x1, y1, x2, y2, w) { return {type:'line', silent:true, shape:{x1, y1, x2, y2}, style:{stroke:INK, lineWidth:w || 1.5}}; }
function arrow(x1, y1, x2, y2) {
  const dx = x2 - x1, dy = y2 - y1, L = Math.hypot(dx, dy), ux = dx / L, uy = dy / L;
  const hl = 11, hw = 4.5, bx = x2 - ux * hl, by = y2 - uy * hl;
  return [
    ln(x1, y1, bx, by, 1.6),
    {type:'polygon', silent:true, shape:{points:[[x2, y2], [bx - uy * hw, by + ux * hw], [bx + uy * hw, by - ux * hw]]}, style:{fill:INK}}
  ];
}
function qb(x1, y1, cx, cy, x2, y2) { return {type:'bezierCurve', silent:true, shape:{x1, y1, x2, y2, cpx1:cx, cpy1:cy}, style:{stroke:INK, lineWidth:1.5, fill:null}}; }
function cb(x1, y1, c1x, c1y, c2x, c2y, x2, y2) { return {type:'bezierCurve', silent:true, shape:{x1, y1, x2, y2, cpx1:c1x, cpy1:c1y, cpx2:c2x, cpy2:c2y}, style:{stroke:INK, lineWidth:1.5, fill:null}}; }
function pl(pts) { return {type:'polyline', silent:true, shape:{points:pts}, style:{stroke:INK, lineWidth:1.5, fill:null}}; }
function curly(x, yTop, yBot, depth) {
  const ym = (yTop + yBot) / 2, xv = x + depth;
  return [
    qb(x, yTop, xv, yTop, xv, yTop + 7), ln(xv, yTop + 7, xv, ym - 5),
    qb(xv, ym - 5, xv, ym, xv + 6, ym), ln(xv + 6, ym, xv + 12, ym),
    qb(xv + 6, ym, xv, ym, xv, ym + 5), ln(xv, ym + 5, xv, yBot - 7),
    qb(xv, yBot - 7, xv, yBot, x, yBot)
  ];
}
function square(x, yTop, yBot, depth, tail) {
  const ym = (yTop + yBot) / 2;
  return [pl([[x, yTop], [x + depth, yTop], [x + depth, yBot], [x, yBot]]), ln(x + depth, ym, x + depth + tail, ym)];
}
function sw(x, y, w, color) { return {type:'rect', silent:true, shape:{x, y:y - 2.5, width:w, height:5}, style:{fill:color}}; }
function dsw(x, y, w, color) { return {type:'line', silent:true, shape:{x1:x, y1:y, x2:x + w, y2:y}, style:{stroke:color, lineWidth:5, lineDash:[6,3]}}; }

const A = 20.5, AW = 500;
const supR = (main) => ({
  s:{fontSize:13, fontFamily:F, fill:INK, verticalAlign:'top', lineHeight:13},
  n:{fontSize:main, fontFamily:F, fill:INK, lineHeight:main + 4}
});
const LS = 21.5;

const graphics = [
  txt(333, 24, 'Retombées des essais', A, AW, 'center'),
  txt(331, 45, 'atmosphériques d’armes nucléaires', A, AW, 'center'),
  cb(124, 93, 124, 76, 127, 69, 140, 69), ln(140, 69, 318, 69),
  cb(318, 69, 326, 69, 330, 66, 331, 61), cb(331, 61, 332, 66, 336, 69, 344, 69),
  ln(344, 69, 512, 69), cb(512, 69, 525, 69, 528, 76, 528, 93),
  txt(264, 83, '1961-1962 : 180 explosions', A, AW, 'center'),
  txt(261, 105, 'russes et américaines', A, AW, 'center'),
  ...arrow(213.5, 116, 213.5, 146),
  txt(31, 102, '{n|µBq/m}{s|3}', 23, AW, 'left', {
    n:{fontSize:23, fontFamily:F, fontWeight:AW, fill:INK, lineHeight:27},
    s:{fontSize:13, fontFamily:F, fontWeight:AW, fill:INK, verticalAlign:'top', lineHeight:13}}),
  txt(657, 124, 'Accident de Tchernobyl', A, AW, 'center'),
  ...arrow(631.5, 134, 631.5, 207),
  txt(381, 155, '« Pics » consécutifs', A, AW, 'center'),
  txt(384, 177, 'à chaque explosion chinoise', A, AW, 'center'),
  ...arrow(348, 191, 306, 271),
  ...arrow(358, 191, 343, 264),
  ...arrow(371.5, 191, 364, 266),
  ...arrow(385, 191, 400, 279),
  ...arrow(395, 191, 456, 271),
  txt(853, 368, 'Accident d’Algésiras', A, AW, 'center'),
  ...arrow(851, 380, 851, 417),
  txt(1106, 391, 'Accident de Fukushima', A, AW, 'center'),
  ...arrow(1085, 403, 1085, 437),

  // ---------- legend ----------
  sw(67, 866, 35, C.kr),
  txt(109, 864, '{s|85}{n|Kr}', LS, 400, 'left', supR(LS)),
  sw(67, 896, 35, C.xe),
  txt(109, 894, '{s|133}{n|Xe}', LS, 400, 'left', supR(LS)),
  ...curly(163, 858, 896, 8),
  txt(192, 876, 'Source : H. Wershofen', LS, 400, 'left'),
  sw(67, 929, 35, C.cs),
  txt(109, 928, '{s|137}{n|Cs}', LS, 400, 'left', supR(LS)),
  sw(67, 958, 35, C.short),
  txt(113, 960, '{n|Périodes < 3 ans }{s|(1)}', LS, 400, 'left', supR(LS)),
  ...curly(298, 919, 967, 8),
  txt(328, 943, 'Source : IRSN', LS, 400, 'left'),

  sw(533, 860, 40, C.c14),
  txt(586, 856, '{s|14}{n|C}', LS, 400, 'left', supR(LS)),
  txt(634, 856, 'Source : IRSN depuis 1994 ; internationale avant 1994', LS, 400, 'left'),
  sw(533, 888, 40, C.h3),
  txt(586, 884, '{s|3}{n|H}', LS, 400, 'left', supR(LS)),
  txt(634, 884, 'Source : Universités de Lausanne et d’Ottawa', LS, 400, 'left'),

  sw(535, 919, 38, C.sr),
  dsw(535, 946, 38, C.sr),
  {type:'rect', silent:true, shape:{x:548, y:968, width:10, height:10}, style:{fill:C.sr}},
  ...square(580, 913, 981, 9, 8),
  txt(603, 946, '{s|90}{n|Sr}', LS, 400, 'left', supR(LS)),

  sw(663, 919, 37, C.pu),
  dsw(663, 946, 37, C.pu),
  {type:'polygon', silent:true, shape:{points:[[682,967],[687.5,979],[676.5,979]]}, style:{fill:C.pu}},
  ...square(700, 913, 981, 9, 9),
  txt(727, 947, '{s|239+240}{n|Pu}', LS, 400, 'left', supR(LS)),

  sw(829, 919, 36, C.pu238),
  dsw(829, 946, 36, C.pu238),
  {type:'polygon', silent:true, shape:{points:[[847,966],[853,974],[847,982],[841,974]]}, style:{fill:C.pu238}},
  ...square(871, 913, 981, 9, 9),
  txt(893, 946, '{s|238}{n|Pu}', LS, 400, 'left', supR(LS)),

  txt(966, 919, 'Source : H. Wershofen', LS, 400, 'left'),
  txt(966, 946, '{n|d’après }{s|137}{n|Cs ou }{s|239+240}{n|Pu}', LS, 400, 'left', supR(LS)),
  txt(966, 973, 'Source : IRSN', LS, 400, 'left')
];

const option = {
  animation:false,
  backgroundColor:'#ffffff',
  grid:{left:114, right:2, top:141, bottom:202, containLabel:false},
  xAxis:{type:'value', min:1957.42, max:2019.21,
    axisLine:{show:true, onZero:false, lineStyle:{color:'#a8a8a8', width:1.5}},
    splitLine:{show:false},
    axisTick:{show:true, customValues:xTickPos, length:13, lineStyle:{color:'#a8a8a8', width:1.2}},
    axisLabel:{customValues:xTickPos, formatter:v => String(Math.round(v)), fontSize:21, color:'#2b2b2b', fontFamily:F, margin:18}},
  yAxis:{type:'log', logBase:10, min:1e-5, max:1e7, interval:1,
    axisLine:{show:true, lineStyle:{color:'#a8a8a8', width:1.5}},
    axisTick:{show:true, length:6, customValues:yTickValues, lineStyle:{color:'#c4c4c4', width:1.5}},
    splitLine:{show:true, lineStyle:{color:'#c4c4c4', width:1.5}},
    axisLabel:{customValues:yTickValues, formatter:fmtY, fontSize:19, color:'#2b2b2b', fontFamily:F, margin:8}},
  series:[
    line('133Xe', xenon133, C.xe, 2.4),
    line('3H', tritium, C.h3, 2.6),
    line('14C', carbon14, C.c14, 3.5),
    line('85Kr', krypton85, C.kr, 2.4),
    line('238Pu estimé', pu238Est, C.pu238, 2.5, true),
    line('238Pu', pu238, C.pu238, 2.5),
    line('239+240Pu estimé', pu239Est, C.pu, 2.5, true),
    line('239+240Pu', pu239, C.pu, 2.5),
    line('90Sr estimé', sr90Est, C.sr, 2.5, true),
    line('90Sr', sr90, C.sr, 2.5),
    line('137Cs', cesium137, C.cs, 2.6),
    line('Périodes < 3 ans', shortLived, C.short, 2.6),
    Object.assign(line('90Sr IRSN', sr90Points, C.sr, 2.5), {showSymbol:true, symbol:'rect', symbolSize:10}),
    points('239+240Pu IRSN', pu239Points, C.pu, 'triangle', 11),
    points('238Pu IRSN', pu238Points, C.pu238, 'diamond', [10,13])
  ],
  graphic:graphics
};
chart.setOption(option);
</script></body></html>
